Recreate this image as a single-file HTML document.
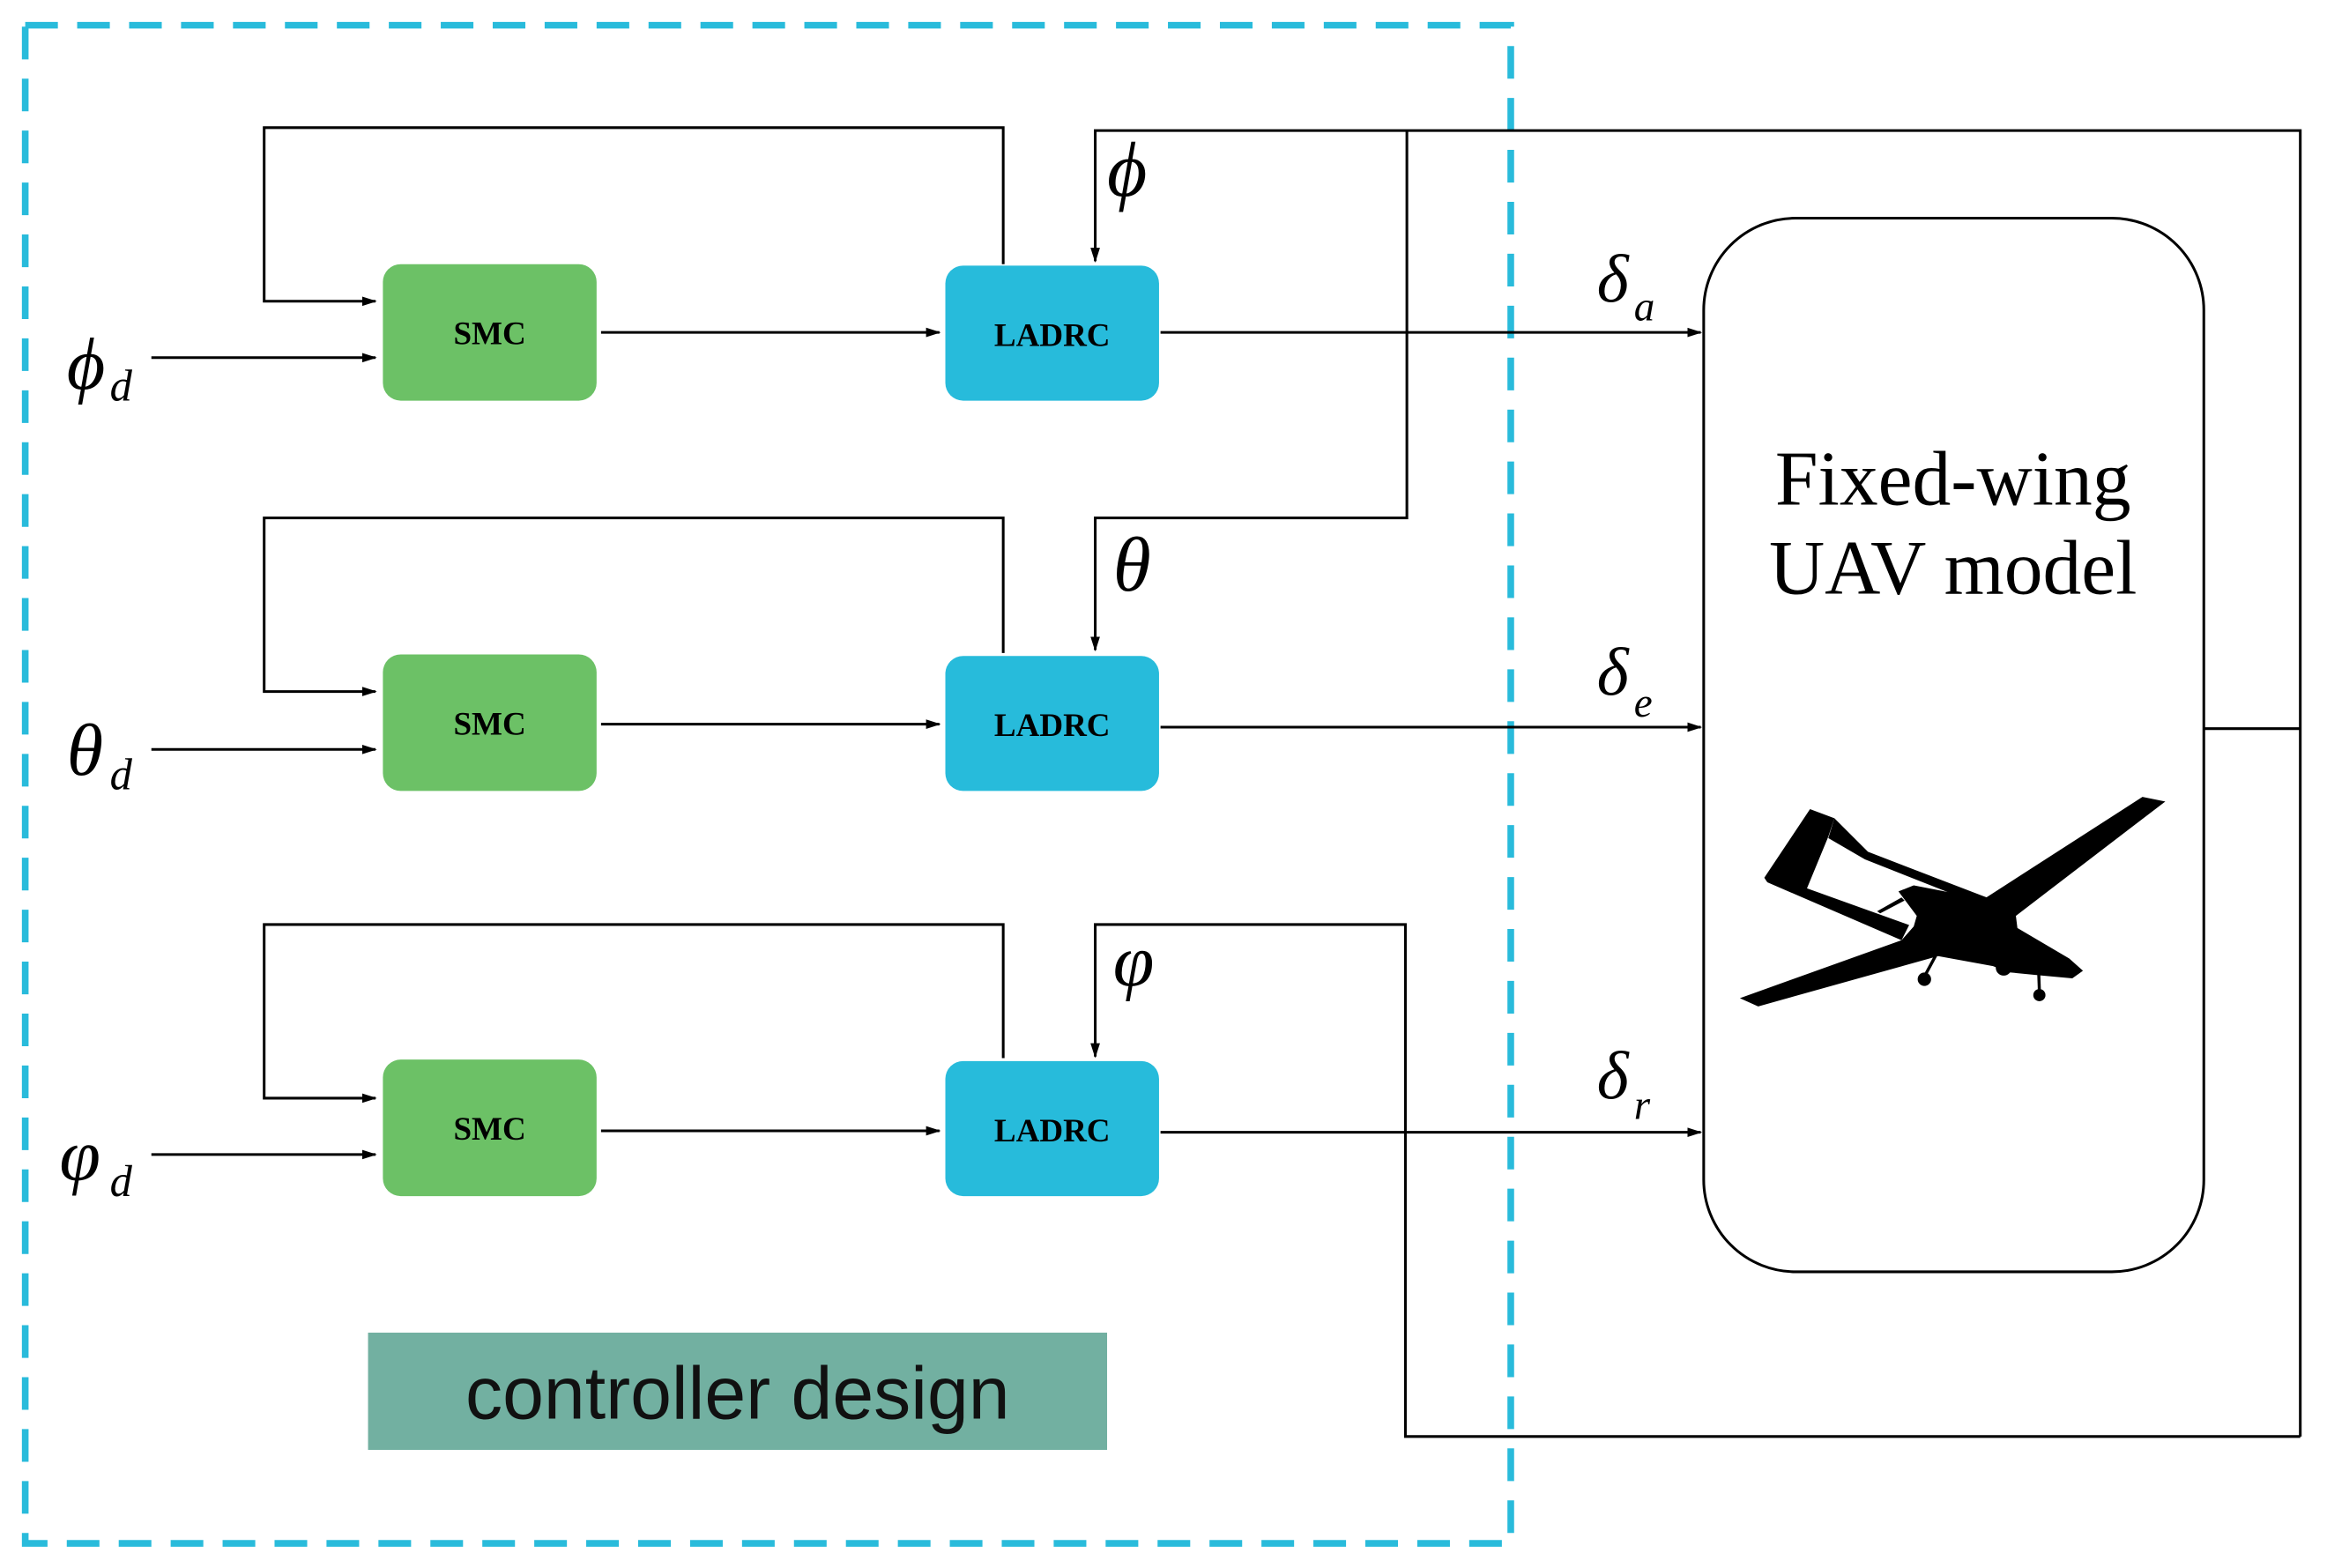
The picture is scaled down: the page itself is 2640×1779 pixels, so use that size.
<!DOCTYPE html>
<html><head><meta charset="utf-8"><style>html,body{margin:0;padding:0;background:#fff}svg{display:block}</style></head>
<body>
<svg width="2640" height="1779" viewBox="0 0 1568 1056.6" preserveAspectRatio="none" xmlns="http://www.w3.org/2000/svg">
<defs>
<marker id="a" markerWidth="10" markerHeight="8" refX="9" refY="4" orient="auto" markerUnits="userSpaceOnUse"><path d="M0,0.8 L10,4 L0,7.2 z" fill="#000"/></marker>
</defs>
<rect x="0" y="0" width="1568" height="1057" fill="#fff"/>
<rect x="17" y="17" width="1001" height="1023" fill="none" stroke="#29bbdb" stroke-width="4.5" stroke-dasharray="22,13"/>

<g fill="none" stroke="#000" stroke-width="1.8">
<polyline points="676,178 676,86 178,86 178,203 253,203" marker-end="url(#a)"/>
<line x1="102" y1="241" x2="253" y2="241" marker-end="url(#a)"/>
<line x1="405" y1="224" x2="633" y2="224" marker-end="url(#a)"/>
<line x1="782" y1="224" x2="1146" y2="224" marker-end="url(#a)"/>
<polyline points="676,440 676,349 178,349 178,466 253,466" marker-end="url(#a)"/>
<line x1="102" y1="505" x2="253" y2="505" marker-end="url(#a)"/>
<line x1="405" y1="488" x2="633" y2="488" marker-end="url(#a)"/>
<line x1="782" y1="490" x2="1146" y2="490" marker-end="url(#a)"/>
<polyline points="676,713 676,623 178,623 178,740 253,740" marker-end="url(#a)"/>
<line x1="102" y1="778" x2="253" y2="778" marker-end="url(#a)"/>
<line x1="405" y1="762" x2="633" y2="762" marker-end="url(#a)"/>
<line x1="782" y1="763" x2="1146" y2="763" marker-end="url(#a)"/>
<polyline points="1485,491 1550,491"/>
<polyline points="1550,968 1550,88 738,88 738,176" marker-end="url(#a)"/>
<polyline points="948,88 948,349 738,349 738,438" marker-end="url(#a)"/>
<polyline points="1550,968 947,968 947,623 738,623 738,712" marker-end="url(#a)"/>
</g>

<g fill="#6cc166">
<rect x="258" y="178" width="144" height="92" rx="12"/>
<rect x="258" y="441" width="144" height="92" rx="12"/>
<rect x="258" y="714" width="144" height="92" rx="12"/>
</g>
<g fill="#27bbdb">
<rect x="637" y="179" width="144" height="91" rx="12"/>
<rect x="637" y="442" width="144" height="91" rx="12"/>
<rect x="637" y="715" width="144" height="91" rx="12"/>
</g>
<g font-family="Liberation Serif, serif" font-weight="bold" font-size="22" text-anchor="middle" fill="#000">
<text x="330" y="232">SMC</text>
<text x="330" y="495">SMC</text>
<text x="330" y="768">SMC</text>
<text x="709" y="233">LADRC</text>
<text x="709" y="496">LADRC</text>
<text x="709" y="769">LADRC</text>
</g>

<rect x="1148" y="147" width="337" height="710" rx="62" fill="#fff" stroke="#000" stroke-width="1.8"/>
<g font-family="Liberation Serif, serif" font-size="52" text-anchor="middle" fill="#000">
<text x="1316" y="340">Fixed-wing</text>
<text x="1316" y="400">UAV model</text>
</g>

<g transform="translate(1158,522.6) scale(0.2055)" fill="#000">
<polygon points="70,730 600,540 640,495 650,460 590,380 640,360 870,405 1390,70 1465,85 975,460 980,500 1150,600 1195,640 1160,665 1050,655 950,645 900,625 720,592 130,757"/>
<polygon points="150,335 300,110 380,140 360,200 290,370 625,490 600,540 160,350"/>
<polygon points="380,140 490,250 880,400 860,425 480,275 360,205"/>
<polygon points="520,445 600,400 610,410 530,452"/>
<line x1="715" y1="585" x2="680" y2="650" stroke="#000" stroke-width="10"/>
<circle cx="675" cy="668" r="22"/>
<line x1="1050" y1="650" x2="1052" y2="705" stroke="#000" stroke-width="10"/>
<circle cx="1052" cy="720" r="20"/>
<circle cx="935" cy="630" r="26"/>
</g>

<rect x="248" y="898" width="498" height="79" fill="#72b0a1"/>
<text x="497" y="956" font-family="Liberation Sans, sans-serif" font-size="50" text-anchor="middle" fill="#111">controller design</text>

<g font-family="Liberation Serif, serif" font-style="italic" fill="#000">
<text x="45" y="262" font-size="50">ϕ</text><text x="74" y="270" font-size="30">d</text>
<text x="45" y="522" font-size="50">θ</text><text x="74" y="532" font-size="30">d</text>
<text x="40" y="795" font-size="50">φ</text><text x="74" y="806" font-size="30">d</text>
<text x="746" y="132" font-size="52">ϕ</text>
<text x="750" y="398" font-size="52">θ</text>
<text x="750" y="664" font-size="50">φ</text>
<text x="1076" y="203" font-size="46">δ</text><text x="1101" y="216" font-size="28">a</text>
<text x="1076" y="468" font-size="46">δ</text><text x="1101" y="483" font-size="28">e</text>
<text x="1076" y="740" font-size="46">δ</text><text x="1101" y="754" font-size="28">r</text>
</g>
</svg>
</body></html>
